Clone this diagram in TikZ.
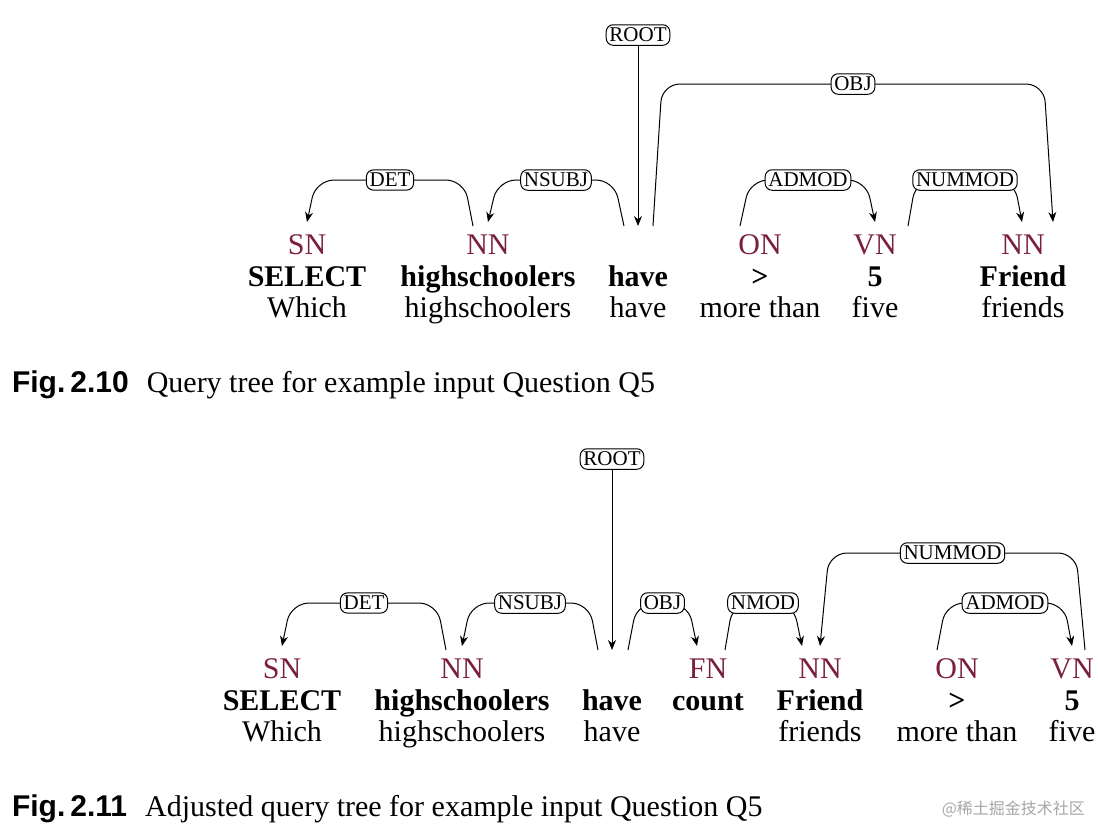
\documentclass[tikz,border=0pt]{standalone}
\usepackage{fontspec}
\setmainfont{Liberation Serif}
\newfontfamily\capsans{Liberation Sans}
\newfontfamily\cjk{Noto Sans CJK SC}
\usetikzlibrary{arrows.meta}
\definecolor{pos}{HTML}{7A1F3D}
\begin{document}
\begin{tikzpicture}[x=0.5pt,y=-0.5pt,
  lab/.style={draw,rounded corners=3.5pt,fill=white,inner sep=1.6pt,font=\fontsize{10.5}{12}\selectfont,line width=0.5pt},
  tag/.style={text=pos,font=\fontsize{15}{17}\selectfont,anchor=base},
  bw/.style={font=\fontsize{15}{17}\selectfont\bfseries,anchor=base},
  pw/.style={font=\fontsize{15}{17}\selectfont,anchor=base},
  arc/.style={line width=0.5pt,rounded corners=9pt,-{Stealth[length=5pt,width=4pt]}},
  figcap/.style={anchor=base west,font=\fontsize{15}{17}\selectfont}]
\useasboundingbox (0,0) rectangle (1098,826);
% ---------- Fig 2.10
\foreach \n/\x/\t/\b/\p in {a/307/SN/SELECT/Which,b/488/NN/highschoolers/highschoolers,c/638/{}/have/have,d/760/ON/>/more than,e/875/VN/5/five,f/1023/NN/Friend/friends}{
  \node[tag] (t\n) at (\x,254) {\t};
  \node[bw] (w\n) at (\x,286) {\b};
  \node[pw] (p\n) at (\x,317) {\p};
}
\node[lab] (root1) at (638,35) {ROOT};
\draw[line width=0.5pt,-{Stealth[length=5pt,width=4pt]}] (root1) -- (638,226);
\draw[arc] (473,226) -- (464,180) -- node[lab]{DET} (316,180) -- (307,222);
\draw[arc] (624,226) -- (614,180) -- node[lab]{NSUBJ} (498,180) -- (488,222);
\draw[arc] (653,226) -- (662,84) -- node[lab]{OBJ} (1044,84) -- (1053,222);
\draw[arc] (740,226) -- (750,180) -- node[lab]{ADMOD} (866,180) -- (875,222);
\draw[arc] (908,226) -- (916,180) -- node[lab]{NUMMOD} (1014,180) -- (1022,222);
\node[figcap] (c1) at (5,392) {{\capsans\bfseries Fig.\,2.10}\hspace{0.6em}Query tree for example input Question Q5};
% ---------- Fig 2.11
\foreach \n/\x/\t/\b/\p in {a/282/SN/SELECT/Which,b/462/NN/highschoolers/highschoolers,c/612/{}/have/have,d/708/FN/count/{},e/820/NN/Friend/friends,f/957/ON/>/more than,g/1072/VN/5/five}{
  \node[tag] (u\n) at (\x,678) {\t};
  \node[bw] (v\n) at (\x,710) {\b};
  \node[pw] (q\n) at (\x,741) {\p};
}
\node[lab] (root2) at (612,459) {ROOT};
\draw[line width=0.5pt,-{Stealth[length=5pt,width=4pt]}] (root2) -- (612,650);
\draw[arc] (446,650) -- (437,603) -- node[lab]{DET} (291,603) -- (282,646);
\draw[arc] (598,650) -- (589,603) -- node[lab]{NSUBJ} (471,603) -- (462,646);
\draw[arc] (628,650) -- (637,603) -- node[lab]{OBJ} (688,603) -- (697,646);
\draw[arc] (725,650) -- (733,603) -- node[lab]{NMOD} (793,603) -- (802,646);
\draw[arc] (1085,650) -- (1076,553) -- node[lab]{NUMMOD} (829,553) -- (820,646);
\draw[arc] (937,650) -- (946,603) -- node[lab]{ADMOD} (1064,603) -- (1072,646);
\node[figcap] (c2) at (5,816) {{\capsans\bfseries Fig.\,2.11}\hspace{0.6em}Adjusted query tree for example input Question Q5};
\node[anchor=base east,text=black!35,font=\fontsize{8}{9}\selectfont\cjk] (wm) at (1092,814) {@稀土掘金技术社区};
\end{tikzpicture}
\end{document}
